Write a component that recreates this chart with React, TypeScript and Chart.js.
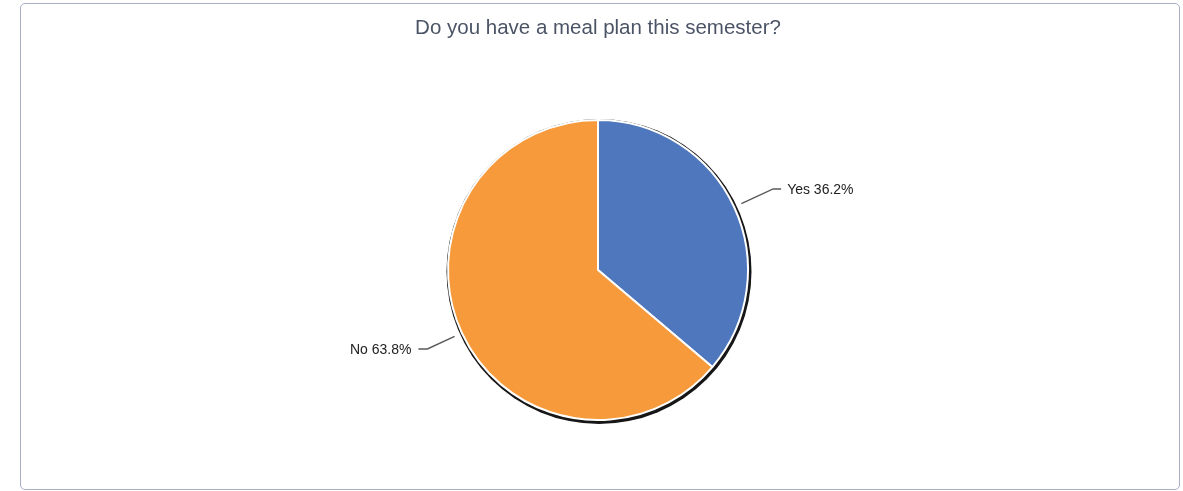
import React, { useEffect, useRef } from "react";
import { Chart, registerables } from "chart.js";

Chart.register(...registerables);

const TITLE = "Do you have a meal plan this semester?";
const categories = ["Yes", "No"];
const percents = [36.2, 63.8];
const colors = ["#4f77bd", "#f79a3b"];

const FONT = "'Liberation Sans', Arial, sans-serif";

const shadowPlugin = {
  id: "pieShadow",
  beforeDatasetsDraw(chart: any) {
    const arc = chart.getDatasetMeta(0).data[0];
    if (!arc) return;
    const { x, y, outerRadius } = arc.getProps(["x", "y", "outerRadius"], true);
    const ctx = chart.ctx;
    ctx.save();
    ctx.beginPath();
    ctx.arc(x + 1, y + 1.5, outerRadius + 2.5, 0, Math.PI * 2);
    ctx.fillStyle = "#161616";
    ctx.fill();
    ctx.restore();
  },
};

const labelPlugin = {
  id: "leaderLabels",
  afterDatasetsDraw(chart: any) {
    const meta = chart.getDatasetMeta(0);
    const ctx = chart.ctx;
    ctx.save();
    meta.data.forEach((arc: any, i: number) => {
      const { x, y, startAngle, endAngle, outerRadius } = arc.getProps(
        ["x", "y", "startAngle", "endAngle", "outerRadius"],
        true
      );
      const mid = (startAngle + endAngle) / 2;
      const c = Math.cos(mid);
      const s = Math.sin(mid);
      const right = c >= 0;
      const r1 = outerRadius + 8;
      const r2 = outerRadius + (right ? 43 : 38);
      const x1 = x + c * r1;
      const y1 = y + s * r1;
      const x2 = x + c * r2;
      const y2 = y + s * r2;
      const x3 = x2 + (right ? 8 : -9);
      ctx.beginPath();
      ctx.moveTo(x1, y1);
      ctx.lineTo(x2, y2);
      ctx.lineTo(x3, y2);
      ctx.strokeStyle = "#5a5a5a";
      ctx.lineWidth = 1.5;
      ctx.stroke();
      ctx.font = `14px ${FONT}`;
      ctx.fillStyle = "#222222";
      ctx.textBaseline = "middle";
      ctx.textAlign = right ? "left" : "right";
      const text = `${categories[i]} ${percents[i].toFixed(1)}%`;
      ctx.fillText(text, x3 + (right ? 6 : -7), y2 + 1);
    });
    ctx.restore();
  },
};

export default function App() {
  const ref = useRef<HTMLCanvasElement | null>(null);

  useEffect(() => {
    if (!ref.current) return;
    const chart = new Chart(ref.current, {
      type: "pie",
      data: {
        labels: categories,
        datasets: [
          {
            data: percents,
            backgroundColor: colors,
            borderColor: "#ffffff",
            borderWidth: 2,
          },
        ],
      },
      options: {
        animation: false,
        responsive: false,
        maintainAspectRatio: false,
        layout: { padding: { left: 13, right: 0, top: 0, bottom: 70 } },
        plugins: {
          legend: { display: false },
          tooltip: { enabled: false },
          title: {
            display: true,
            text: TITLE,
            color: "#4b5466",
            font: { family: FONT, size: 20.5, weight: "normal" as any, lineHeight: 1.2 },
            padding: { top: 16, bottom: 78.4 },
          },
        },
      },
      plugins: [shadowPlugin, labelPlugin],
    });
    return () => chart.destroy();
  }, []);

  return (
    <div
      style={{
        position: "absolute",
        left: 0,
        top: 0,
        width: 1183,
        height: 491,
        background: "#ffffff",
      }}
    >
      <div
        style={{
          position: "absolute",
          left: 20,
          top: 3,
          width: 1160,
          height: 487,
          boxSizing: "border-box",
          border: "1.5px solid #a7afc7",
          borderRadius: 5,
        }}
      />
      <canvas
        ref={ref}
        width={1183}
        height={491}
        style={{ position: "absolute", left: 0, top: 0, width: 1183, height: 491 }}
      />
    </div>
  );
}
